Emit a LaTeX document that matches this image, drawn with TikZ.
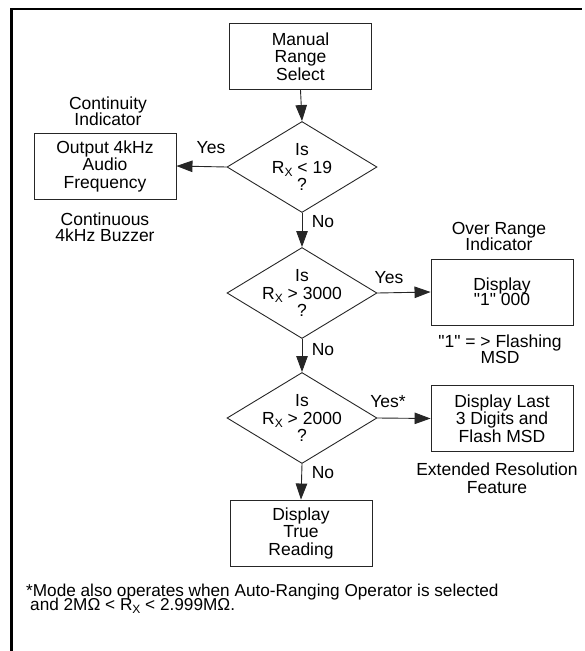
\documentclass[tikz,border=0pt]{standalone}
\usepackage{fontspec}
\setmainfont{Liberation Sans}
\usetikzlibrary{arrows.meta,shapes.geometric}
\newcommand{\Rsx}{R\raisebox{-3pt}{\fontsize{12}{12}\selectfont X}}
\newcommand{\qd}{\textquotedbl}
\lineskiplimit=-100pt
\lineskip=0pt
\begin{document}
\begin{tikzpicture}[x=1pt,y=-1pt,
  txt/.style={font=\fontsize{17.5}{17.5}\selectfont, align=center, inner sep=0pt},
  boxnode/.style={txt, draw=black!85, line width=0.9pt, rectangle, minimum width=142pt, minimum height=66pt},
  dia/.style={draw=black!85, line width=0.9pt, diamond, minimum width=150pt, minimum height=91pt, inner sep=0pt},
  arr/.style={draw=black!85, line width=0.9pt, -{Triangle[length=16pt,width=11.5pt]}},
  frameline/.style={line width=2.7pt, black}
]
\useasboundingbox (0,0) rectangle (585,651);
\draw[frameline] (11.5,651) -- (11.5,9) -- (582,9);

% main column
\node[boxnode] (manual) at (300.5,56.5) {Manual\\Range\\Select};
\node[dia] (d1) at (302,167) {};
\node[txt] (d1t) at (d1) {Is\\\Rsx{} < 19\\?};
\node[dia] (d2) at (302,293) {};
\node[txt] (d2t) at (d2) {Is\\\Rsx{} > 3000\\?};
\node[dia] (d3) at (302,418) {};
\node[txt] (d3t) at (d3) {Is\\\Rsx{} > 2000\\?};
\node[boxnode] (true) at (301,533) {Display\\True\\Reading};

% side boxes
\node[boxnode] (out) at (105,166) {Output 4kHz\\Audio\\Frequency};
\node[boxnode, font=\fontsize{17.5}{15}\selectfont] (disp1) at (502,292) {Display\\\qd1\qd{} 000};
\node[boxnode] (disp2) at (502,418.5) {Display Last\\3 Digits and\\Flash MSD};

% captions
\node[txt, font=\fontsize{17.5}{16.5}\selectfont] (cont1) at (108,111) {Continuity\\Indicator};
\node[txt, font=\fontsize{17.5}{16.5}\selectfont] (cont2) at (105,227) {Continuous\\4kHz Buzzer};
\node[txt, font=\fontsize{17.5}{16.5}\selectfont] (over1) at (499,236.5) {Over Range\\Indicator};
\node[txt, font=\fontsize{17.5}{16.5}\selectfont] (over2) at (500,349) {\qd1\qd{} = > Flashing\\MSD};
\node[txt] (ext) at (497,478) {Extended Resolution\\Feature};

% connector labels
\node[txt] (yes1) at (211,148) {Yes};
\node[txt] (no1) at (323,222) {No};
\node[txt] (yes2) at (389,278) {Yes};
\node[txt] (no2) at (323,350) {No};
\node[txt] (yes3) at (388,402) {Yes*};
\node[txt] (no3) at (323,473) {No};

% connectors
\draw[arr] (manual.south) -- (d1.north);
\draw[arr] (d1.west) -- (out.east);
\draw[arr] (d1.south) -- (d2.north);
\draw[arr] (d2.east) -- (disp1.west);
\draw[arr] (d2.south) -- (d3.north);
\draw[arr] (d3.east) -- (disp2.west);
\draw[arr] (d3.south) -- (true.north);

% footnote
\node[txt, anchor=north west, align=left, font=\fontsize{17.2}{13.5}\selectfont] (fn) at (26,584) {*Mode also operates when Auto-Ranging Operator is selected\\\hspace*{4pt}and 2MΩ < \Rsx{} < 2.999MΩ.};
\end{tikzpicture}
\end{document}
